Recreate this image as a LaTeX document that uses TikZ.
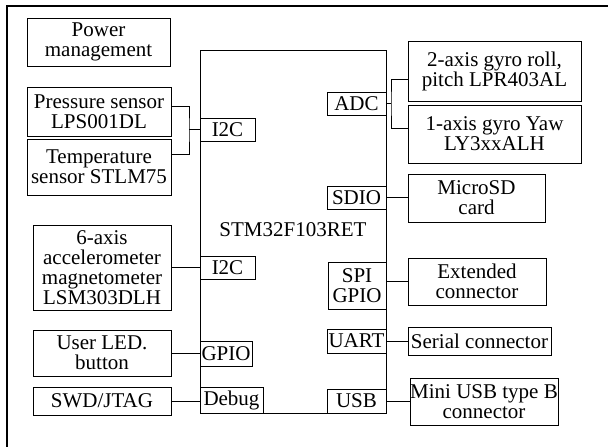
\documentclass[tikz,border=0pt]{standalone}
\usepackage{fontspec}
\setmainfont{Liberation Serif}
\begin{document}
\begin{tikzpicture}[x=1pt,y=-1pt,
  every node/.style={font=\fontsize{21}{20}\selectfont},
  box/.style={draw, line width=1pt, inner sep=0pt, align=center},
  wire/.style={line width=1pt}]
\useasboundingbox (0,0) rectangle (608,447);
\draw[line width=1.2pt] (7,447) -- (7,6) -- (608,6);
% main MCU
\node[box, minimum width=186pt, minimum height=363pt] (stm) at (293,231.5) {};
\node[inner sep=0pt] (stmlabel) at (293,230) {STM32F103RET};
% left side peripherals
\node[box, minimum width=143pt, minimum height=48pt] (pwr) at (98.5,42) {Power\\management};
\node[box, minimum width=144pt, minimum height=49pt] (pres) at (99,111.5) {Pressure sensor\\LPS001DL};
\node[box, minimum width=144pt, minimum height=56pt] (temp) at (99,167) {Temperature\\sensor STLM75};
\node[box, minimum width=138pt, minimum height=85pt] (acc) at (102,267.5) {6-axis\\accelerometer\\magnetometer\\LSM303DLH};
\node[box, minimum width=138pt, minimum height=46pt] (led) at (102,353) {User LED.\\button};
\node[box, minimum width=138pt, minimum height=28pt] (swd) at (102,401) {SWD/JTAG};
% left interfaces
\node[box, minimum width=55pt, minimum height=23pt] (i2ca) at (227.5,129.5) {I2C};
\node[box, minimum width=55pt, minimum height=23pt] (i2cb) at (227.5,267.5) {I2C};
\node[box, minimum width=52pt, minimum height=25pt] (gpio) at (226,353.5) {GPIO};
\node[box, minimum width=63pt, minimum height=26pt] (debug) at (231.5,400) {Debug};
% right interfaces
\node[box, minimum width=59pt, minimum height=23pt] (adc) at (356.5,103.5) {ADC};
\node[box, minimum width=59pt, minimum height=23pt] (sdio) at (356.5,197.5) {SDIO};
\node[box, minimum width=58pt, minimum height=47pt] (spi) at (357,285.5) {SPI\\GPIO};
\node[box, minimum width=59pt, minimum height=24pt] (uart) at (356.5,341) {UART};
\node[box, minimum width=59pt, minimum height=24pt] (usb) at (356.5,401) {USB};
% right peripherals
\node[box, minimum width=173pt, minimum height=60pt] (gyro2) at (494.5,71) {2-axis gyro roll,\\pitch LPR403AL};
\node[box, minimum width=173pt, minimum height=58pt] (gyro1) at (494.5,134) {1-axis gyro Yaw\\LY3xxALH};
\node[box, minimum width=137pt, minimum height=48pt] (sd) at (476.5,198) {MicroSD\\card};
\node[box, minimum width=138pt, minimum height=47pt] (ext) at (477,281.5) {Extended\\connector};
\node[box, minimum width=143pt, minimum height=28pt] (serial) at (479.5,341) {Serial connector};
\node[box, minimum width=148pt, minimum height=47pt] (miniusb) at (484,401.5) {Mini USB type B\\connector};
% junctions
\coordinate (ja) at (189,129.5);
\coordinate (jb) at (391,103.5);
% connectors
\draw[wire] ([yshift=5.5pt]pres.east) -| (ja) |- ([yshift=13pt]temp.east);
\draw[wire] (ja) -- (i2ca.west);
\draw[wire] (acc.east) -- (i2cb.west);
\draw[wire] (led.east) -- (led.east -| gpio.west);
\draw[wire] (swd.east) -- (swd.east -| debug.west);
\draw[wire] (adc.east) -- (jb);
\draw[wire] ([yshift=-8pt]gyro2.west) -| (jb) |- ([yshift=6pt]gyro1.west);
\draw[wire] (sdio.east) -- (sdio.east -| sd.west);
\draw[wire] (ext.west) -- (ext.west -| spi.east);
\draw[wire] (uart.east) -- (serial.west);
\draw[wire] (usb.east) -- (usb.east -| miniusb.west);
\end{tikzpicture}
\end{document}
